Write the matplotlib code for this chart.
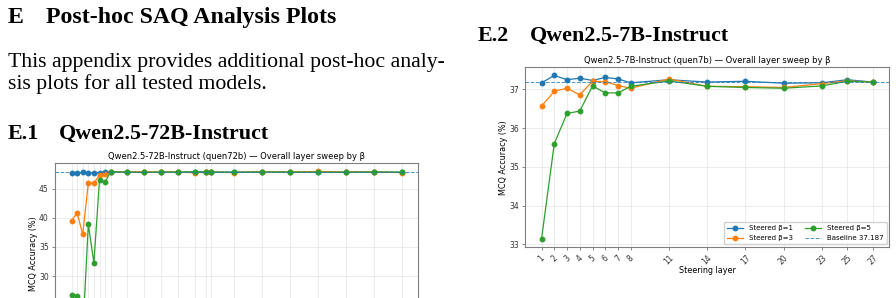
import matplotlib
matplotlib.use("Agg")
import matplotlib.pyplot as plt

# ---- data ----
layers_72b = [1, 2, 3, 4, 5, 6, 7, 8, 11, 14, 17, 20, 23, 25, 26, 30, 35, 40, 45, 50, 55, 60]
b1_72b = [47.69, 47.63, 47.80, 47.75, 47.75, 47.75, 47.78, 47.92, 47.85, 47.82, 47.85, 47.85,
          47.88, 47.90, 47.85, 47.85, 47.88, 47.85, 47.88, 47.85, 47.88, 47.82]
b3_72b = [39.5, 40.83, 37.17, 45.9, 45.9, 47.4, 47.45, 47.85, 47.85, 47.9, 47.85, 47.85,
          47.72, 47.80, 47.85, 47.75, 47.88, 47.85, 47.95, 47.85, 47.85, 47.75]
b5_72b = [26.8, 26.6, 19.9, 38.88, 32.25, 46.5, 46.15, 47.9, 47.85, 47.8, 47.85, 47.85,
          47.88, 47.78, 47.85, 47.80, 47.85, 47.85, 47.85, 47.82, 47.85, 47.82]
baseline_72b = 47.83

layers_7b = [1, 2, 3, 4, 5, 6, 7, 8, 11, 14, 17, 20, 23, 25, 27]
b1_7b = [37.17, 37.36, 37.25, 37.29, 37.23, 37.31, 37.27, 37.17, 37.25, 37.19, 37.21, 37.16,
         37.17, 37.25, 37.19]
b3_7b = [36.57, 36.95, 37.03, 36.86, 37.21, 37.20, 37.10, 37.03, 37.27, 37.08, 37.07, 37.05,
         37.15, 37.22, 37.19]
b5_7b = [33.14, 35.60, 36.38, 36.44, 37.09, 36.91, 36.91, 37.08, 37.22, 37.08, 37.05, 37.03,
         37.09, 37.21, 37.19]
baseline_7b = 37.187

W, H = 896, 298
fig = plt.figure(figsize=(W / 100, H / 100), dpi=100)


def px(x, y):
    return x / W, 1 - y / H


def serif_text(x, y, s, size, bold=False):
    fx, fy = px(x, y)
    fig.text(fx, fy, s, fontsize=size, family='Liberation Serif',
             fontweight='bold' if bold else 'normal', va='baseline', ha='left')


# page text
serif_text(8, 22.7, 'E', 17.2, True)
serif_text(46, 22.7, 'Post-hoc SAQ Analysis Plots', 17.2, True)
serif_text(8, 66.7, 'This appendix provides additional post-hoc analy-', 15.65)
serif_text(8, 89.3, 'sis plots for all tested models.', 15.65)
serif_text(8, 139, 'E.1', 15.8, True)
serif_text(59.3, 139, 'Qwen2.5-72B-Instruct', 15.8, True)
serif_text(477.3, 40.7, 'E.2', 15.8, True)
serif_text(530, 40.7, 'Qwen2.5-7B-Instruct', 15.8, True)


def sweep(ax, layers, b1, b3, b5, base, title):
    ax.plot(layers, b1, marker='o', ms=3.2, lw=0.9, color='C0', label='Steered β=1')
    ax.plot(layers, b3, marker='o', ms=3.2, lw=0.9, color='C1', label='Steered β=3')
    ax.plot(layers, b5, marker='o', ms=3.2, lw=0.9, color='C2', label='Steered β=5')
    ax.axhline(base, ls='--', lw=0.7, color='C0', alpha=0.8, label='Baseline {}'.format(base))
    ax.set_xticks(layers)
    ax.set_xticklabels([str(l) for l in layers], rotation=45, fontsize=5.5)
    ax.tick_params(axis='y', labelsize=5.5)
    ax.tick_params(length=2.5, width=0.6, color='0.45', pad=2, labelcolor='0.2')
    ax.grid(True, color='0.85', lw=0.5, alpha=0.7)
    for sp in ax.spines.values():
        sp.set_color('0.5')
        sp.set_linewidth(0.8)
    ax.set_title(title, fontsize=6, pad=3)
    ax.set_xlabel('Steering layer', fontsize=5.8, labelpad=0)
    ax.set_ylabel('MCQ Accuracy (%)', fontsize=5.8, labelpad=0.5)
    ax.legend(loc='lower right', ncol=2, fontsize=5.0, framealpha=0.9,
              borderpad=0.45, handlelength=2.3, columnspacing=1.8, labelspacing=0.6,
              borderaxespad=0.4)


# left chart (the page crop cuts it off below the 30 gridline)
ax1 = fig.add_axes([55 / W, 1 - 343 / H, 363.3 / W, 179.7 / H])
sweep(ax1, layers_72b, b1_72b, b3_72b, b5_72b, baseline_72b,
      'Qwen2.5-72B-Instruct (quen72b) — Overall layer sweep by β')
ax1.set_yticks([20, 25, 30, 35, 40, 45])

# right chart
ax2 = fig.add_axes([525 / W, 1 - 247 / H, 364.3 / W, 179.7 / H])
sweep(ax2, layers_7b, b1_7b, b3_7b, b5_7b, baseline_7b,
      'Qwen2.5-7B-Instruct (quen7b) — Overall layer sweep by β')
ax2.set_yticks([33, 34, 35, 36, 37])

fig.savefig('out.png', dpi=100)
